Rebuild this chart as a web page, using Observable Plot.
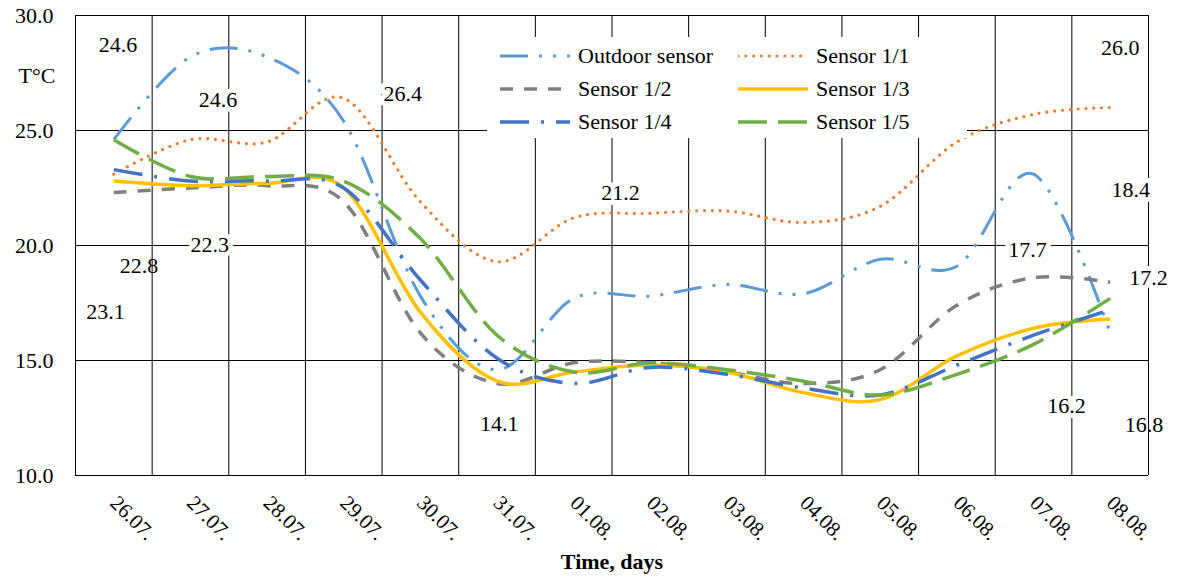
<!DOCTYPE html>
<html>
<head>
<meta charset="utf-8">
<script src="https://cdn.jsdelivr.net/npm/d3@7"></script>
<script src="https://cdn.jsdelivr.net/npm/@observablehq/plot@0.6"></script>
<style>
  body { margin: 0; background: #fff; }
  #wrap { position: relative; width: 1178px; height: 581px; font-family: "Liberation Serif", "DejaVu Serif", serif; }
  #legend { position: absolute; left: 487px; top: 37px; width: 480px; height: 101px; background: #fff; }
  .item { position: absolute; height: 30px; display: flex; align-items: center; font-size: 22px; color: #000; white-space: nowrap; font-family: "Liberation Serif", "DejaVu Serif", serif; }
  .item svg { margin-right: 8px; }
  svg text { font-family: "Liberation Serif", "DejaVu Serif", serif; }
</style>
</head>
<body>
<div id="wrap"><div id="legend"></div></div>
<script>
// ---- data ----
const days = ["26.07.", "27.07.", "28.07.", "29.07.", "30.07.", "31.07.", "01.08.", "02.08.", "03.08.", "04.08.", "05.08.", "06.08.", "07.08.", "08.08."];
const seriesNames = ["Outdoor sensor", "Sensor 1/1", "Sensor 1/2", "Sensor 1/3", "Sensor 1/4", "Sensor 1/5"];
const outdoor = [24.6, 28.2, 28.2, 25.4, 17.8, 14.6, 17.7, 17.8, 18.3, 17.9, 19.4, 19.1, 23.1, 16.2];
const sensor11 = [23.1, 24.6, 24.5, 26.4, 21.9, 19.3, 21.2, 21.4, 21.5, 21.0, 21.7, 24.5, 25.7, 26.0];
const sensor12 = [22.3, 22.5, 22.6, 21.9, 16.2, 14.0, 14.9, 14.9, 14.5, 14.0, 14.6, 17.4, 18.6, 18.4];
const sensor13 = [22.8, 22.6, 22.7, 22.5, 17.1, 14.1, 14.5, 14.8, 14.5, 13.6, 13.3, 15.2, 16.4, 16.8];
const sensor14 = [23.3, 22.8, 22.8, 22.5, 18.5, 15.1, 14.0, 14.7, 14.4, 13.8, 13.5, 14.8, 16.1, 17.2];
const sensor15 = [24.6, 23.0, 23.0, 22.8, 20.3, 16.1, 14.5, 14.9, 14.6, 14.1, 13.5, 14.4, 15.7, 17.7];
const yTicks = [10, 15, 20, 25, 30];
// data labels as shown in the chart (text, anchor day index, anchor temperature)
const labelTexts = ["24.6", "24.6", "22.3", "22.8", "23.1", "26.4", "21.2", "14.1", "17.7", "16.2", "26.0", "18.4", "17.2", "16.8"];
const labelDay   = [0.055, 1.36, 1.25, 0.33, -0.11, 3.77, 6.61, 5.03, 11.92, 12.43, 13.13, 13.27, 13.50, 13.44];
const labelTemp  = [28.70, 26.33, 20.02, 19.13, 17.09, 26.57, 22.28, 12.24, 19.80, 13.02, 28.59, 22.41, 18.57, 12.20];
const labelBoxed = [true, true, true, false, true, true, true, true, true, true, true, true, true, false];

// ---- styles ----
const FONT = "'Liberation Serif', 'DejaVu Serif', serif";
const allSeries = [outdoor, sensor11, sensor12, sensor13, sensor14, sensor15];
const styles = [
  {stroke: "#5B9BD5", strokeWidth: 3,   dash: "28,11,3,11,3,11"},
  {stroke: "#ED7D31", strokeWidth: 3.2, dash: "0.01,7.8", cap: "round"},
  {stroke: "#7F7F7F", strokeWidth: 3.5, dash: "13,11"},
  {stroke: "#FFC000", strokeWidth: 3.5, dash: null},
  {stroke: "#4472C4", strokeWidth: 3.5, dash: "29,12,3,12"},
  {stroke: "#70AD47", strokeWidth: 3.5, dash: "29,11"}
];

const table = allSeries.flatMap((vals, s) => vals.map((v, i) => ({series: seriesNames[s], i, v})));
const labels = labelTexts.map((t, k) => ({t, x: labelDay[k], y: labelTemp[k], boxed: labelBoxed[k]}));
const bounds = d3.range(days.length + 1).map(i => i - 0.5);

const lineMarks = seriesNames.map((name, s) => Plot.line(table.filter(d => d.series === name), {
  x: "i", y: "v",
  stroke: styles[s].stroke,
  strokeWidth: styles[s].strokeWidth,
  strokeDasharray: styles[s].dash || undefined,
  strokeLinecap: styles[s].cap || "butt",
  curve: "cardinal"
}));

const chart = Plot.plot({
  width: 1178,
  height: 581,
  marginLeft: 75,
  marginRight: 30,
  marginTop: 15,
  marginBottom: 106,
  style: {fontFamily: FONT, fontSize: "22px", color: "#000", background: "transparent"},
  x: {type: "linear", domain: [-0.5, days.length - 0.5]},
  y: {domain: [10, 30]},
  marks: [
    Plot.ruleY(yTicks, {stroke: "#000", strokeWidth: 1}),
    Plot.ruleX(bounds, {stroke: "#000", strokeWidth: 1}),
    Plot.axisY(yTicks, {tickFormat: d => d.toFixed(1), tickSize: 0, tickPadding: 22, label: null, fontSize: 22, fontFamily: FONT}),
    Plot.axisX(days.map((d, i) => i), {tickFormat: i => days[i], tickRotate: 45, tickSize: 0, tickPadding: 24, label: null, fontSize: 21, fontFamily: FONT}),
    ...lineMarks,
    Plot.text(labels.filter(d => d.boxed), {x: "x", y: "y", text: "t", fontSize: 22, fontFamily: FONT, fill: "#000", stroke: "#fff", strokeWidth: 10, strokeLinejoin: "round", paintOrder: "stroke"}),
    Plot.text(labels.filter(d => !d.boxed), {x: "x", y: "y", text: "t", fontSize: 22, fontFamily: FONT, fill: "#000"}),
    Plot.text(["T°C"], {x: -0.5, y: 27.35, dx: -20, textAnchor: "end", fontSize: 22, fontFamily: FONT, fill: "#000"}),
    Plot.text(["Time, days"], {frameAnchor: "bottom", dy: 93, fontSize: 22, fontFamily: FONT, fontWeight: "bold", fill: "#000"})
  ]
});

const wrap = document.getElementById("wrap");
wrap.insertBefore(chart, wrap.firstChild);

// ---- legend ----
const legend = d3.select("#legend");
const rowCenters = [19, 52, 85];
const colLeft = [13, 251];
seriesNames.forEach((name, s) => {
  const row = Math.floor(s / 2), col = s % 2;
  const item = legend.append("div").attr("class", "item")
    .style("left", colLeft[col] + "px")
    .style("top", (rowCenters[row] - 15) + "px");
  const svg = item.append("svg").attr("width", 70).attr("height", 10);
  svg.append("line").attr("x1", 0).attr("x2", 70).attr("y1", 5).attr("y2", 5)
    .attr("stroke", styles[s].stroke)
    .attr("stroke-width", styles[s].strokeWidth)
    .attr("stroke-dasharray", styles[s].dash)
    .attr("stroke-linecap", styles[s].cap || "butt");
  item.append("span").text(name);
});
</script>
</body>
</html>
